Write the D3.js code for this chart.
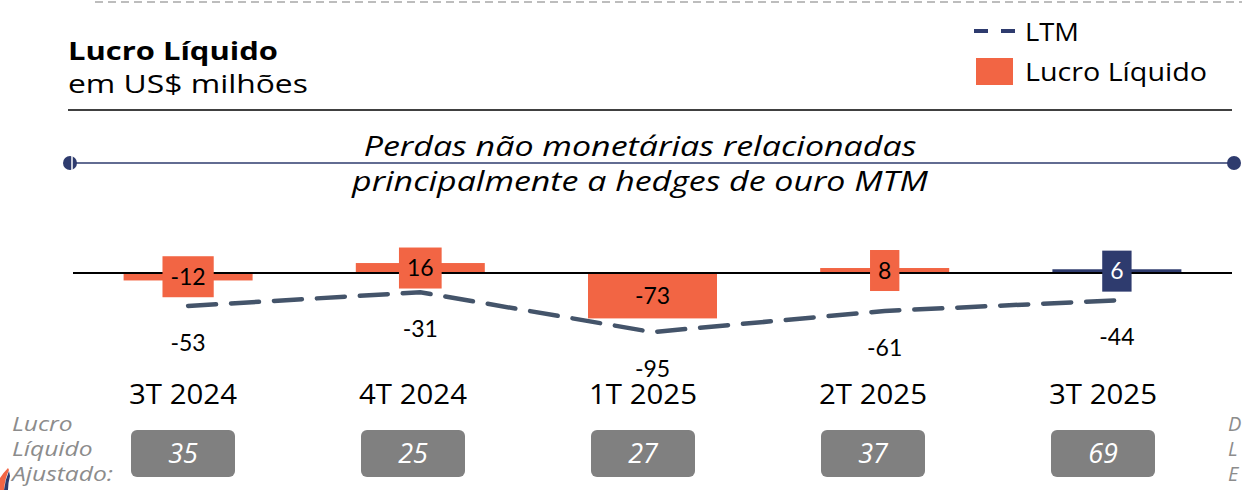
<!DOCTYPE html>
<html>
<head>
<meta charset="utf-8">
<script src="https://cdn.jsdelivr.net/npm/d3@7"></script>
<style>
  body { margin: 0; background: #fff; overflow: hidden; }
  svg { display: block; }
  .num { font-family: Lato, 'Liberation Sans', sans-serif; }
  .sans { font-family: 'Open Sans', 'Noto Sans', sans-serif; }
</style>
</head>
<body>
<div id="chart"></div>
<script>
// Data
const quarters = ['3T 2024', '4T 2024', '1T 2025', '2T 2025', '3T 2025']
const lucroLiquido = [-12, 16, -73, 8, 6]
const ltm = [-53, -31, -95, -61, -44]
const lucroAjustado = [35, 25, 27, 37, 69]
const highlightQuarter = '3T 2025'

const orange = '#F26544'
const navy = '#2E3B6E'
const slate = '#44546A'

const width = 1242
const height = 490

const svg = d3.select('#chart')
  .append('svg')
  .attr('width', width)
  .attr('height', height)

// the deck font is wider than what we have, so stretch the text horizontally
function fit(sel, w) {
  const n = sel.node()
  const k = w / n.getComputedTextLength()
  const x = +sel.attr('x')
  const y = +sel.attr('y')
  sel.attr('x', 0).attr('y', 0)
    .attr('transform', `translate(${x},${y}) scale(${k},1)`)
  return k
}

// Scales
const xScale = d3.scaleBand().domain(quarters).range([72, 1233])
const xLabel = d3.scaleBand().domain(quarters).range([68, 1218])
const yScale = d3.scaleLinear().domain([-100, 20]).range([335.2, 260.56])
const cx = q => xScale(q) + xScale.bandwidth() / 2
const lx = q => xLabel(q) + xLabel.bandwidth() / 2
const barW = 129

// Top dashed separator
svg.append('line')
  .attr('x1', 95).attr('x2', width).attr('y1', 2).attr('y2', 2)
  .attr('stroke', '#bdbdbd').attr('stroke-width', 2)
  .attr('stroke-dasharray', '8 5')

// Title
fit(svg.append('text').attr('class', 'sans')
  .attr('x', 68).attr('y', 59.5)
  .attr('font-size', 25).attr('font-weight', 700).attr('fill', '#000')
  .text('Lucro Líquido'), 210)
fit(svg.append('text').attr('class', 'sans')
  .attr('x', 68).attr('y', 93)
  .attr('font-size', 26).attr('fill', '#000')
  .text('em US$ milhões'), 240)

svg.append('line')
  .attr('x1', 68).attr('x2', 1232).attr('y1', 110).attr('y2', 110)
  .attr('stroke', '#000').attr('stroke-width', 1.5)

// Legend
const legend = svg.append('g')
legend.append('line')
  .attr('x1', 974).attr('x2', 1016).attr('y1', 31).attr('y2', 31)
  .attr('stroke', navy).attr('stroke-width', 4)
  .attr('stroke-dasharray', '14 13')
fit(legend.append('text').attr('class', 'sans')
  .attr('x', 1025).attr('y', 40.5).attr('font-size', 26).text('LTM'), 54)
legend.append('rect')
  .attr('x', 976).attr('y', 58).attr('width', 37).attr('height', 27)
  .attr('fill', orange)
fit(legend.append('text').attr('class', 'sans')
  .attr('x', 1025).attr('y', 81).attr('font-size', 26).text('Lucro Líquido'), 182)

// Annotation bracket line
svg.append('line')
  .attr('x1', 70).attr('x2', 1234).attr('y1', 163).attr('y2', 163)
  .attr('stroke', navy).attr('stroke-width', 1.5)
svg.append('circle').attr('cx', 70).attr('cy', 163).attr('r', 7).attr('fill', navy)
svg.append('line')
  .attr('x1', 72).attr('x2', 72).attr('y1', 155).attr('y2', 171)
  .attr('stroke', '#fff').attr('stroke-width', 1.5)
svg.append('circle').attr('cx', 1234).attr('cy', 163).attr('r', 7).attr('fill', navy)

const noteLines = [
  { text: 'Perdas não monetárias relacionadas', y: 156, w: 553 },
  { text: 'principalmente a hedges de ouro MTM', y: 191, w: 576 }
]
noteLines.forEach(l => {
  fit(svg.append('text').attr('class', 'sans')
    .attr('x', 640).attr('y', l.y)
    .attr('text-anchor', 'middle').attr('font-style', 'italic')
    .attr('font-size', 27).attr('fill', '#000')
    .text(l.text), l.w)
})

// Bars
const g = svg.append('g')
g.selectAll('.bar')
  .data(quarters)
  .join('rect')
  .attr('class', 'bar')
  .attr('x', q => cx(q) - barW / 2)
  .attr('width', barW)
  .attr('y', (q, i) => yScale(Math.max(0, lucroLiquido[i])))
  .attr('height', (q, i) => Math.abs(yScale(lucroLiquido[i]) - yScale(0)))
  .attr('fill', q => q === highlightQuarter ? navy : orange)

// Zero line
g.append('line')
  .attr('x1', 73).attr('x2', 1232)
  .attr('y1', yScale(0)).attr('y2', yScale(0))
  .attr('stroke', '#000').attr('stroke-width', 2)

// LTM dashed line
const ltmData = quarters.map((q, i) => ({ q, v: ltm[i] }))
const ltmLine = d3.line()
  .x(d => cx(d.q))
  .y(d => yScale(d.v))
g.append('path')
  .datum(ltmData)
  .attr('d', ltmLine)
  .attr('fill', 'none')
  .attr('stroke', slate)
  .attr('stroke-width', 4.5)
  .attr('stroke-linecap', 'round')
  .attr('stroke-dasharray', '28 15')

// LTM value labels
g.selectAll('.ltm-label')
  .data(ltmData)
  .join('text')
  .attr('class', 'ltm-label num')
  .attr('x', d => cx(d.q))
  .attr('y', d => yScale(d.v) + 37)
  .attr('dy', '0.35em')
  .attr('text-anchor', 'middle')
  .attr('font-size', 23)
  .attr('fill', '#000')
  .text(d => d.v)

// Bar value labels with background boxes
const labels = g.selectAll('.bar-label')
  .data(quarters.map((q, i) => ({ q, v: lucroLiquido[i] })))
  .join('g')
  .attr('class', 'bar-label')
  .attr('transform', d => `translate(${cx(d.q)},${(yScale(d.v) + yScale(0)) / 2})`)
labels.append('rect')
labels.append('text')
  .attr('class', 'num')
  .attr('text-anchor', 'middle')
  .attr('dy', '0.35em')
  .attr('font-size', 23)
  .attr('fill', d => d.q === highlightQuarter ? '#fff' : '#000')
  .text(d => d.v)
labels.each(function (d) {
  const w = d3.select(this).select('text').node().getComputedTextLength() + 16
  d3.select(this).select('rect')
    .attr('x', -w / 2).attr('y', -20.5)
    .attr('width', w).attr('height', 41)
    .attr('fill', d.q === highlightQuarter ? navy : orange)
})

// Category axis labels
const cats = svg.selectAll('.cat')
  .data(quarters)
  .join('text')
  .attr('class', 'cat sans')
  .attr('x', lx)
  .attr('y', 404)
  .attr('text-anchor', 'middle')
  .attr('font-size', 26.5)
  .attr('fill', '#000')
  .text(q => q)
const catK = 108 / cats.node().getComputedTextLength()
cats.each(function (q) {
  d3.select(this).attr('x', 0).attr('y', 0)
    .attr('transform', `translate(${lx(q)},404) scale(${catK},1)`)
})

// Adjusted net income boxes
const adj = svg.selectAll('.adj')
  .data(quarters.map((q, i) => ({ q, v: lucroAjustado[i] })))
  .join('g')
  .attr('class', 'adj')
  .attr('transform', d => `translate(${lx(d.q)},453.5)`)
adj.append('rect')
  .attr('x', -52).attr('y', -23.5)
  .attr('width', 104).attr('height', 47)
  .attr('rx', 6)
  .attr('fill', '#808080')
adj.append('text')
  .attr('class', 'sans')
  .attr('text-anchor', 'middle')
  .attr('dy', '0.36em')
  .attr('font-size', 27)
  .attr('font-style', 'italic')
  .attr('fill', '#fff')
  .text(d => d.v)

// Left side label
const sideLines = ['Lucro', 'Líquido', 'Ajustado:']
const side = svg.selectAll('.side')
  .data(sideLines)
  .join('text')
  .attr('class', 'side sans')
  .attr('font-style', 'italic').attr('font-size', 20).attr('fill', '#8c8c8c')
  .text(d => d)
const sideK = 101 / side.nodes()[2].getComputedTextLength()
side.attr('transform', (d, i) => `translate(12,${431 + i * 25}) scale(${sideK},1)`)

// Right side clipped label
svg.selectAll('.side-r')
  .data(['D', 'L', 'E'])
  .join('text')
  .attr('class', 'side-r sans')
  .attr('x', 1228)
  .attr('y', (d, i) => 431 + i * 25)
  .attr('font-style', 'italic').attr('font-size', 20).attr('fill', '#8c8c8c')
  .text(d => d)

// Corner decoration
svg.append('path')
  .attr('d', 'M0,490 L0,478 Q4,472 8,468 L9,470 Q5,478 4,490 Z')
  .attr('fill', orange)
svg.append('path')
  .attr('d', 'M4,490 Q5,480 9,471 L10,476 Q8,483 8,490 Z')
  .attr('fill', navy)
</script>
</body>
</html>
